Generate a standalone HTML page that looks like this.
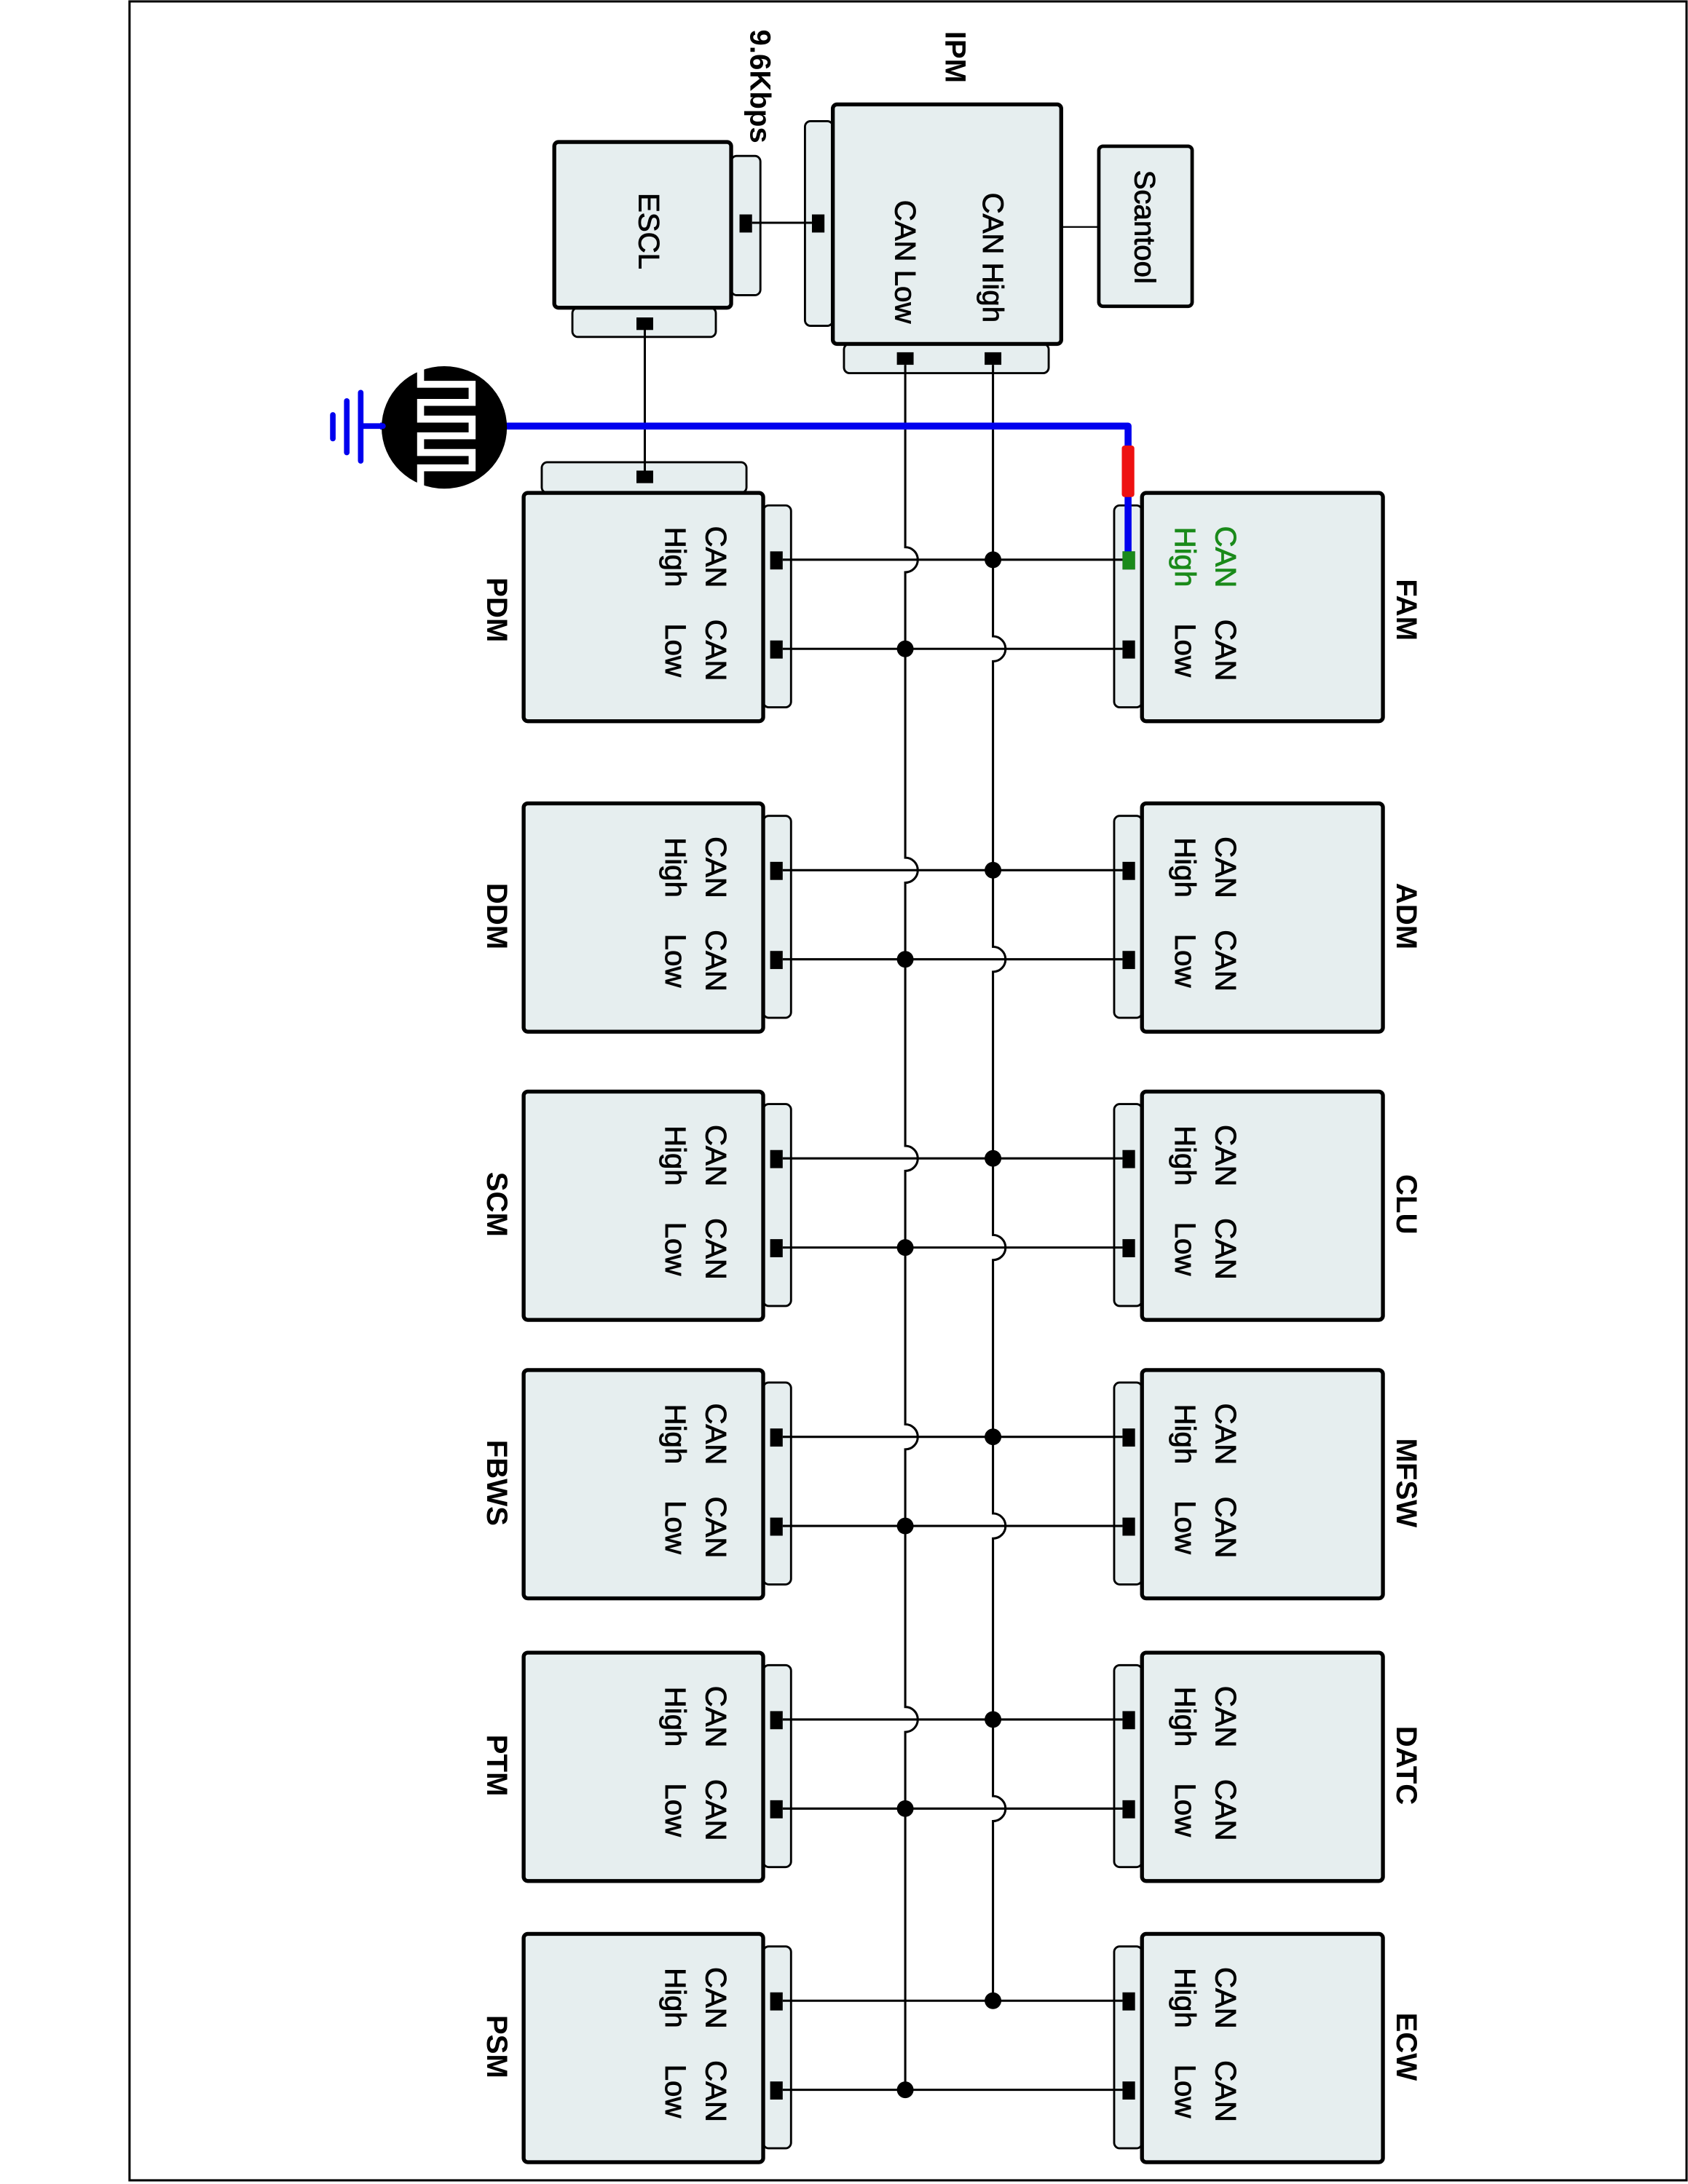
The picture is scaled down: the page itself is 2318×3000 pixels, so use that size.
<!DOCTYPE html>
<html><head><meta charset="utf-8">
<style>
html,body{margin:0;padding:0;background:#fff;}
svg{display:block;}
text{font-family:"Liberation Sans",Arial,sans-serif;}
.t{stroke:#000;stroke-width:0.45;}
</style></head>
<body>
<svg width="2318" height="3000" viewBox="0 0 1212.05 1568.63" xmlns="http://www.w3.org/2000/svg">
<defs>
<g id="L">
  <rect x="548" y="363" width="20" height="145" rx="4" fill="#e6eeef" stroke="#000" stroke-width="1.5"/>
  <rect x="376" y="354" width="172" height="164" rx="3" fill="#e6eeef" stroke="#000" stroke-width="2.8"/>
  <rect x="553" y="396" width="9" height="13" fill="#000"/>
  <rect x="553" y="460" width="9" height="13" fill="#000"/>
  <g font-size="21" dominant-baseline="central" text-anchor="middle" class="t">
    <text transform="translate(514,400) rotate(90)">CAN</text>
    <text transform="translate(485,400) rotate(90)">High</text>
    <text transform="translate(514,467) rotate(90)">CAN</text>
    <text transform="translate(485,467) rotate(90)">Low</text>
  </g>
</g>
<g id="R">
  <rect x="800" y="363" width="20" height="145" rx="4" fill="#e6eeef" stroke="#000" stroke-width="1.5"/>
  <rect x="820" y="354" width="173" height="164" rx="3" fill="#e6eeef" stroke="#000" stroke-width="2.8"/>
  <rect x="806" y="396" width="9" height="13" fill="#000"/>
  <rect x="806" y="460" width="9" height="13" fill="#000"/>
  <g font-size="21" dominant-baseline="central" text-anchor="middle" class="t">
    <text transform="translate(880,467) rotate(90)">CAN</text>
    <text transform="translate(851,467) rotate(90)">Low</text>
  </g>
</g>
<g id="RT">
  <g font-size="21" dominant-baseline="central" text-anchor="middle" class="t">
    <text transform="translate(880,400) rotate(90)">CAN</text>
    <text transform="translate(851,400) rotate(90)">High</text>
  </g>
</g>
<g id="W">
  <line x1="562" y1="402" x2="806" y2="402" stroke="#000" stroke-width="1.6"/>
  <line x1="562" y1="466" x2="806" y2="466" stroke="#000" stroke-width="1.6"/>
</g>
</defs>

<rect x="93" y="1" width="1118" height="1565" fill="none" stroke="#000" stroke-width="1.6"/>

<text transform="translate(686,41) rotate(90)" font-size="21" font-weight="bold" dominant-baseline="central" text-anchor="middle">IPM</text>
<text transform="translate(546,62) rotate(90)" font-size="21" font-weight="bold" dominant-baseline="central" text-anchor="middle">9.6Kbps</text>

<rect x="525" y="112" width="21" height="100" rx="4" fill="#e6eeef" stroke="#000" stroke-width="1.5"/>
<rect x="411" y="221" width="103" height="21" rx="4" fill="#e6eeef" stroke="#000" stroke-width="1.5"/>
<rect x="398" y="102" width="127" height="119" rx="3" fill="#e6eeef" stroke="#000" stroke-width="2.8"/>
<text class="t" transform="translate(466,166) rotate(90)" font-size="21" dominant-baseline="central" text-anchor="middle">ESCL</text>
<rect x="531" y="154" width="9" height="13" fill="#000"/>

<rect x="578" y="87" width="20" height="147" rx="4" fill="#e6eeef" stroke="#000" stroke-width="1.5"/>
<rect x="606" y="247" width="147" height="21" rx="4" fill="#e6eeef" stroke="#000" stroke-width="1.5"/>
<rect x="598" y="75" width="164" height="172" rx="3" fill="#e6eeef" stroke="#000" stroke-width="2.8"/>
<text class="t" transform="translate(713,185) rotate(90)" font-size="21" dominant-baseline="central" text-anchor="middle">CAN High</text>
<text class="t" transform="translate(650,188) rotate(90)" font-size="21" dominant-baseline="central" text-anchor="middle">CAN Low</text>
<rect x="583" y="154" width="9" height="13" fill="#000"/>
<line x1="540" y1="160" x2="583" y2="160" stroke="#000" stroke-width="1.6"/>
<rect x="644" y="253" width="12" height="9" fill="#000"/>
<rect x="707" y="253" width="12" height="9" fill="#000"/>

<line x1="762" y1="163" x2="789" y2="163" stroke="#000" stroke-width="1.2"/>
<rect x="789" y="105" width="67" height="115" rx="3" fill="#e6eeef" stroke="#000" stroke-width="2.5"/>
<text class="t" transform="translate(822,163) rotate(90)" font-size="21" dominant-baseline="central" text-anchor="middle">Scantool</text>

<rect x="389" y="332" width="147" height="22" rx="4" fill="#e6eeef" stroke="#000" stroke-width="1.5"/>
<line x1="463" y1="236" x2="463" y2="340" stroke="#000" stroke-width="1.6"/>
<rect x="457" y="228" width="12" height="9" fill="#000"/>
<rect x="457" y="338" width="12" height="9" fill="#000"/>

<use href="#L"/><use href="#R"/>
<g transform="translate(0,223)"><use href="#L"/><use href="#R"/><use href="#RT"/><use href="#W"/></g>
<g transform="translate(0,430)"><use href="#L"/><use href="#R"/><use href="#RT"/><use href="#W"/></g>
<g transform="translate(0,630)"><use href="#L"/><use href="#R"/><use href="#RT"/><use href="#W"/></g>
<g transform="translate(0,833)"><use href="#L"/><use href="#R"/><use href="#RT"/><use href="#W"/></g>
<g transform="translate(0,1035)"><use href="#L"/><use href="#R"/><use href="#RT"/><use href="#W"/></g>
<use href="#W"/>
<g font-size="21" dominant-baseline="central" text-anchor="middle" fill="#1a8a1a" stroke="#1a8a1a" stroke-width="0.45">
  <text transform="translate(880,400) rotate(90)">CAN</text>
  <text transform="translate(851,400) rotate(90)">High</text>
</g>

<g font-size="21" font-weight="bold" dominant-baseline="central" text-anchor="middle">
  <text transform="translate(357,438) rotate(90)">PDM</text>
  <text transform="translate(357,658) rotate(90)">DDM</text>
  <text transform="translate(357,865) rotate(90)">SCM</text>
  <text transform="translate(357,1065) rotate(90)">FBWS</text>
  <text transform="translate(357,1268) rotate(90)">PTM</text>
  <text transform="translate(357,1470) rotate(90)">PSM</text>
  <text transform="translate(1010,438) rotate(90)">FAM</text>
  <text transform="translate(1010,658) rotate(90)">ADM</text>
  <text transform="translate(1010,865) rotate(90)">CLU</text>
  <text transform="translate(1010,1065) rotate(90)">MFSW</text>
  <text transform="translate(1010,1268) rotate(90)">DATC</text>
  <text transform="translate(1010,1470) rotate(90)">ECW</text>
</g>

<path d="M650,262 V393 A9,9 0 0 1 650,411 V616 A9,9 0 0 1 650,634 V823 A9,9 0 0 1 650,841 V1023 A9,9 0 0 1 650,1041 V1226 A9,9 0 0 1 650,1244 V1502" fill="none" stroke="#000" stroke-width="1.6"/>
<path d="M713,262 V457 A9,9 0 0 1 713,475 V680 A9,9 0 0 1 713,698 V887 A9,9 0 0 1 713,905 V1087 A9,9 0 0 1 713,1105 V1290 A9,9 0 0 1 713,1308 V1437" fill="none" stroke="#000" stroke-width="1.6"/>
<g fill="#000">
  <circle cx="713" cy="402" r="6"/><circle cx="713" cy="625" r="6"/><circle cx="713" cy="832" r="6"/>
  <circle cx="713" cy="1032" r="6"/><circle cx="713" cy="1235" r="6"/><circle cx="713" cy="1437" r="6"/>
  <circle cx="650" cy="466" r="6"/><circle cx="650" cy="689" r="6"/><circle cx="650" cy="896" r="6"/>
  <circle cx="650" cy="1096" r="6"/><circle cx="650" cy="1299" r="6"/><circle cx="650" cy="1501" r="6"/>
</g>

<path d="M273,306 H810 V400" fill="none" stroke="#0000ee" stroke-width="5" stroke-linejoin="round"/>
<rect x="805.5" y="320" width="9" height="37" rx="2" fill="#ee1111"/>
<rect x="806" y="396" width="9" height="13" fill="#1a8a1a"/>
<ellipse cx="319" cy="307" rx="45" ry="44" fill="#000"/>
<path d="M302,263 V276 H339 V289 H302 V301 H339 V313 H302 V325 H339 V336 H302 V351" fill="none" stroke="#fff" stroke-width="5"/>
<g stroke="#0000ee" stroke-width="4" stroke-linecap="round">
  <line x1="259" y1="306" x2="275" y2="306"/>
  <line x1="259" y1="282" x2="259" y2="331"/>
  <line x1="249" y1="288" x2="249" y2="325"/>
  <line x1="239" y1="298" x2="239" y2="315"/>
</g>
</svg>
</body></html>
